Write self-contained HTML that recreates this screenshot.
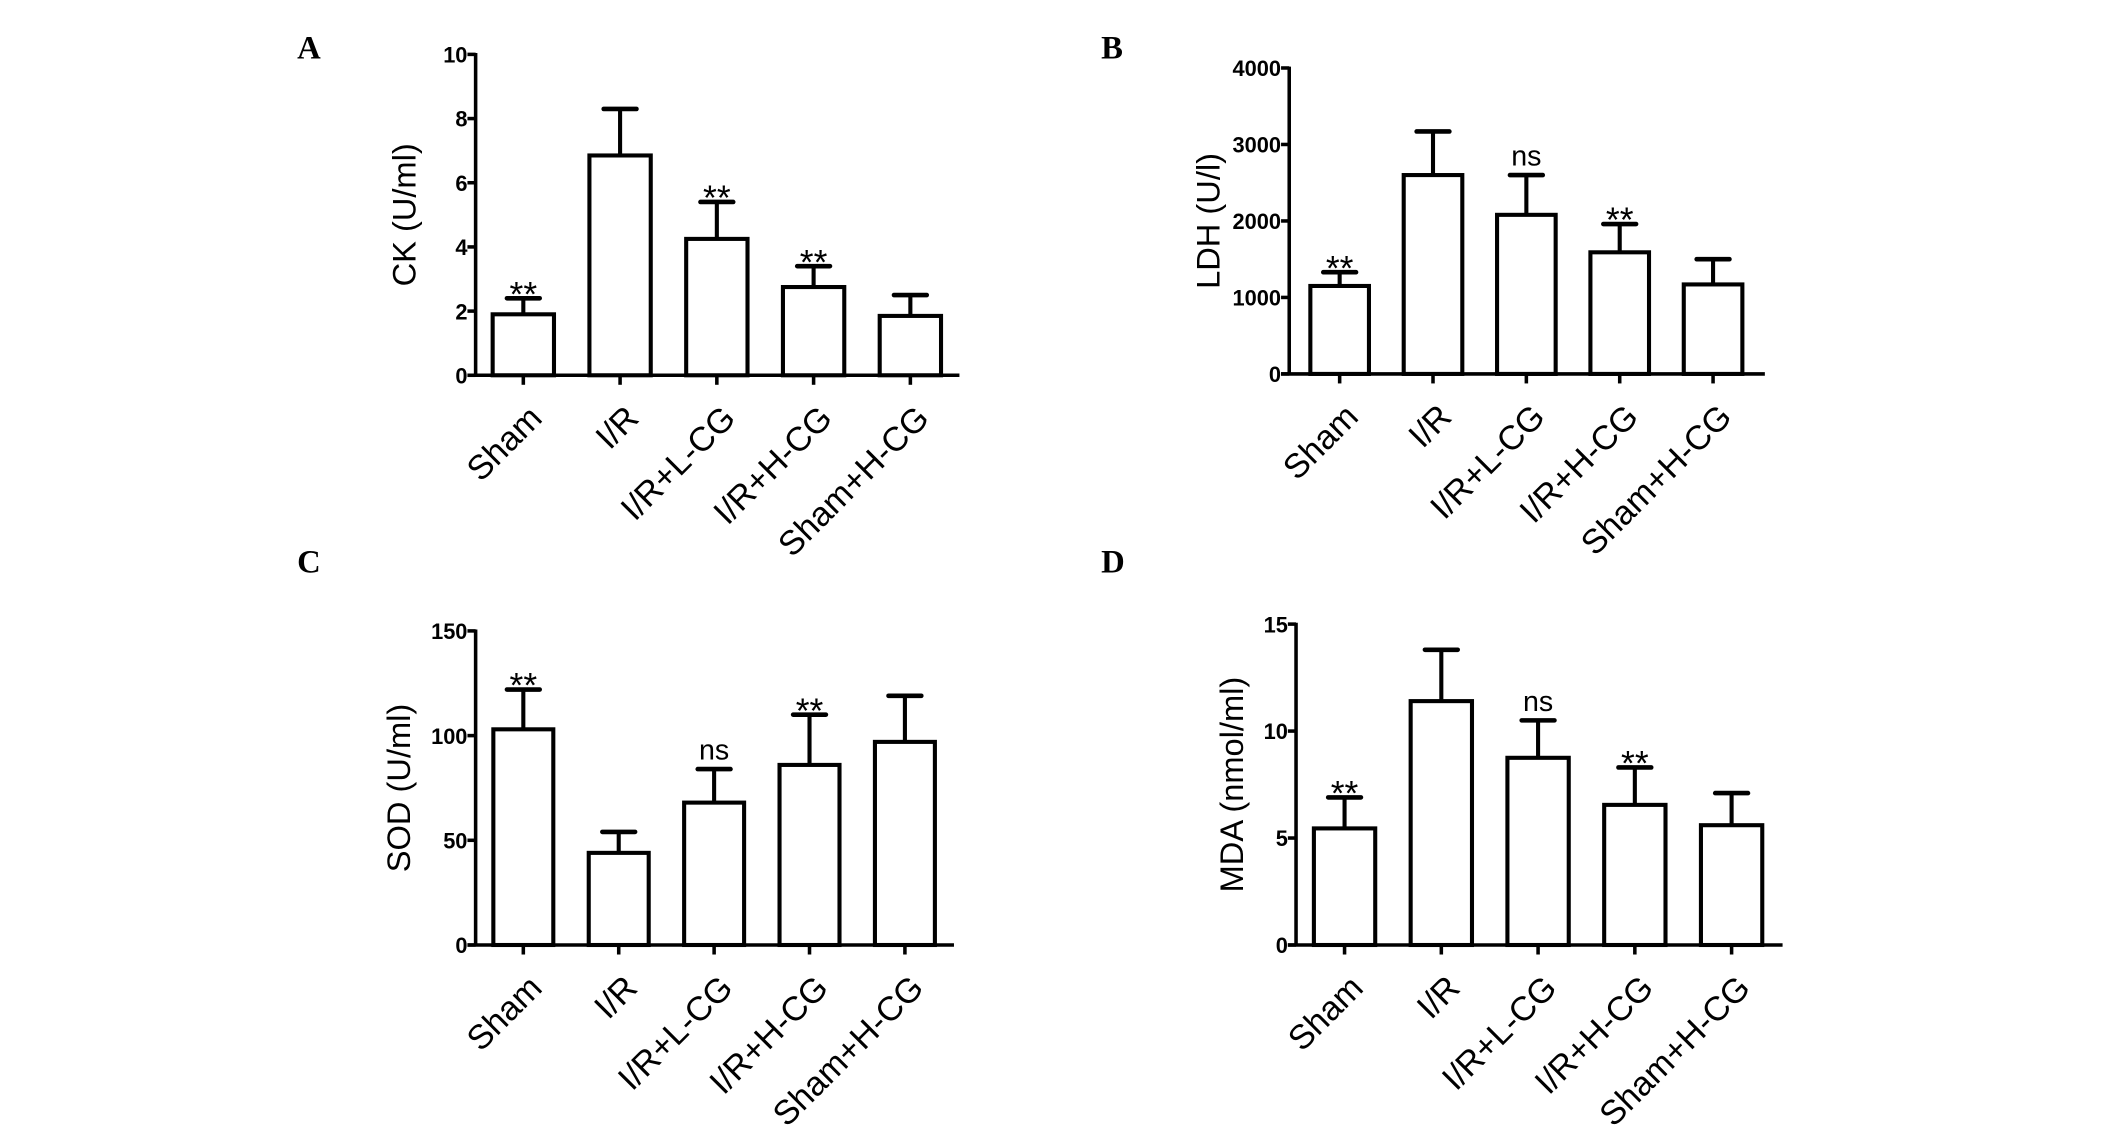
<!DOCTYPE html>
<html><head><meta charset="utf-8"><style>
html,body{margin:0;padding:0;background:#fff;}
svg{display:block;}
text{font-family:"Liberation Sans",Arial,sans-serif;fill:#000;}
.tick{font-weight:bold;font-size:16px;}
.lbl{font-size:24px;}
.cat{font-size:25px;}
.sig{font-size:26px;}
.ns{font-size:21px;}
.pl{font-family:"Liberation Serif",serif;font-weight:bold;font-size:24px;}
</style></head><body>
<svg id="fig" width="2126" height="1134" viewBox="0 0 1560 834" preserveAspectRatio="none" xmlns="http://www.w3.org/2000/svg"></svg>
<script>
const categories = ["Sham","I/R","I/R+L-CG","I/R+H-CG","Sham+H-CG"];
const ckValues = [1.9, 6.85, 4.25, 2.75, 1.85];
const ckErrors = [0.5, 1.45, 1.15, 0.65, 0.65];
const ckSig = ["**","","**","**",""];
const ckTicks = [0,2,4,6,8,10];
const ldhValues = [1150, 2600, 2080, 1590, 1170];
const ldhErrors = [180, 570, 520, 370, 330];
const ldhSig = ["**","","ns","**",""];
const ldhTicks = [0,1000,2000,3000,4000];
const sodValues = [103, 44, 68, 86, 97];
const sodErrors = [19, 10, 16, 24, 22];
const sodSig = ["**","","ns","**",""];
const sodTicks = [0,50,100,150];
const mdaValues = [5.45, 11.4, 8.75, 6.55, 5.6];
const mdaErrors = [1.45, 2.4, 1.75, 1.75, 1.5];
const mdaSig = ["**","","ns","**",""];
const mdaTicks = [0,5,10,15];

const NS="http://www.w3.org/2000/svg";
const svg=document.getElementById('fig');
function mk(tag,attrs,parent){const e=document.createElementNS(NS,tag);for(const k in attrs)e.setAttribute(k,attrs[k]);(parent||svg).appendChild(e);return e;}

function panel(cfg){
  const g=mk('g',{});
  
  
  const ax=cfg.ax, top=cfg.top, bot=cfg.bot, right=cfg.right;
  const ymax=cfg.ticks[cfg.ticks.length-1];
  const y=v=>bot-(v/ymax)*(bot-top);
  const xc=i=>ax+cfg.off+i*cfg.step;
  const bw=cfg.bw;
  const L=mk('text',{x:cfg.lx,y:cfg.ly,class:'pl'},g);L.textContent=cfg.letter;
  
  
  cfg.values.forEach((v,i)=>{
    const cx=xc(i), yt=y(v), ye=y(v+cfg.errors[i]);
    const eb=mk('line',{x1:cx,y1:yt,x2:cx,y2:ye,stroke:'#000','stroke-width':3},g);
    
    
    const cap=mk('line',{x1:cx-12,y1:ye,x2:cx+12,y2:ye,stroke:'#000','stroke-width':3.4,'stroke-linecap':'round'},g);
    
    
    const r=mk('rect',{x:cx-bw/2,y:yt,width:bw,height:bot-yt,fill:'#fff',stroke:'#000','stroke-width':3},g);
    
    
    if(cfg.sig[i]){
      const isNs=cfg.sig[i]==='ns';
      const s=mk('text',{x:cx,y:isNs?ye-7:ye+6,'text-anchor':'middle',class:isNs?'ns':'sig'},g);
      s.textContent=cfg.sig[i];
      
      
    }
    const t=mk('line',{x1:cx,y1:bot,x2:cx,y2:bot+7,stroke:'#000','stroke-width':2.6},g);
    
    
    const c=mk('text',{x:cx+15,y:bot+33,'text-anchor':'end',class:'cat',transform:`rotate(-45 ${cx+15} ${bot+33})`},g);
    c.textContent=categories[i];
    
    
  });
  const ya=mk('line',{x1:ax,y1:top-1,x2:ax,y2:bot+1,stroke:'#000','stroke-width':2.6},g);
  
  
  const xa=mk('line',{x1:ax-6,y1:bot,x2:right,y2:bot,stroke:'#000','stroke-width':2.6},g);
  
  
  cfg.ticks.forEach(tv=>{
    const ty=y(tv);
    const tl=mk('line',{x1:ax-6,y1:ty,x2:ax,y2:ty,stroke:'#000','stroke-width':2.6},g);
    
    
    const tt=mk('text',{x:ax-6,y:ty+6,'text-anchor':'end',class:'tick'},g);
    tt.textContent=tv;
    
    
  });
  const tx=cfg.titleX, ty=(top+bot)/2;
  const yt=mk('text',{x:tx,y:ty,'text-anchor':'middle',class:'lbl',transform:`rotate(-90 ${tx} ${ty})`},g);
  yt.textContent=cfg.title;
  
  
}
panel({name:'ck',letter:'A',lx:218,ly:43,ax:349,top:40,bot:276,right:704,off:35,step:71,bw:45,values:ckValues,errors:ckErrors,sig:ckSig,ticks:ckTicks,title:'CK (U/ml)',titleX:305});
panel({name:'ldh',letter:'B',lx:808,ly:43,ax:946,top:50,bot:275,right:1295,off:37,step:68.5,bw:43,values:ldhValues,errors:ldhErrors,sig:ldhSig,ticks:ldhTicks,title:'LDH (U/l)',titleX:895});
panel({name:'sod',letter:'C',lx:218,ly:421,ax:349,top:464,bot:695,right:700,off:35,step:70,bw:44,values:sodValues,errors:sodErrors,sig:sodSig,ticks:sodTicks,title:'SOD (U/ml)',titleX:301});
panel({name:'mda',letter:'D',lx:808,ly:421,ax:951,top:459,bot:695,right:1308,off:35.6,step:71,bw:45,values:mdaValues,errors:mdaErrors,sig:mdaSig,ticks:mdaTicks,title:'MDA (nmol/ml)',titleX:912});
</script>
</body></html>
